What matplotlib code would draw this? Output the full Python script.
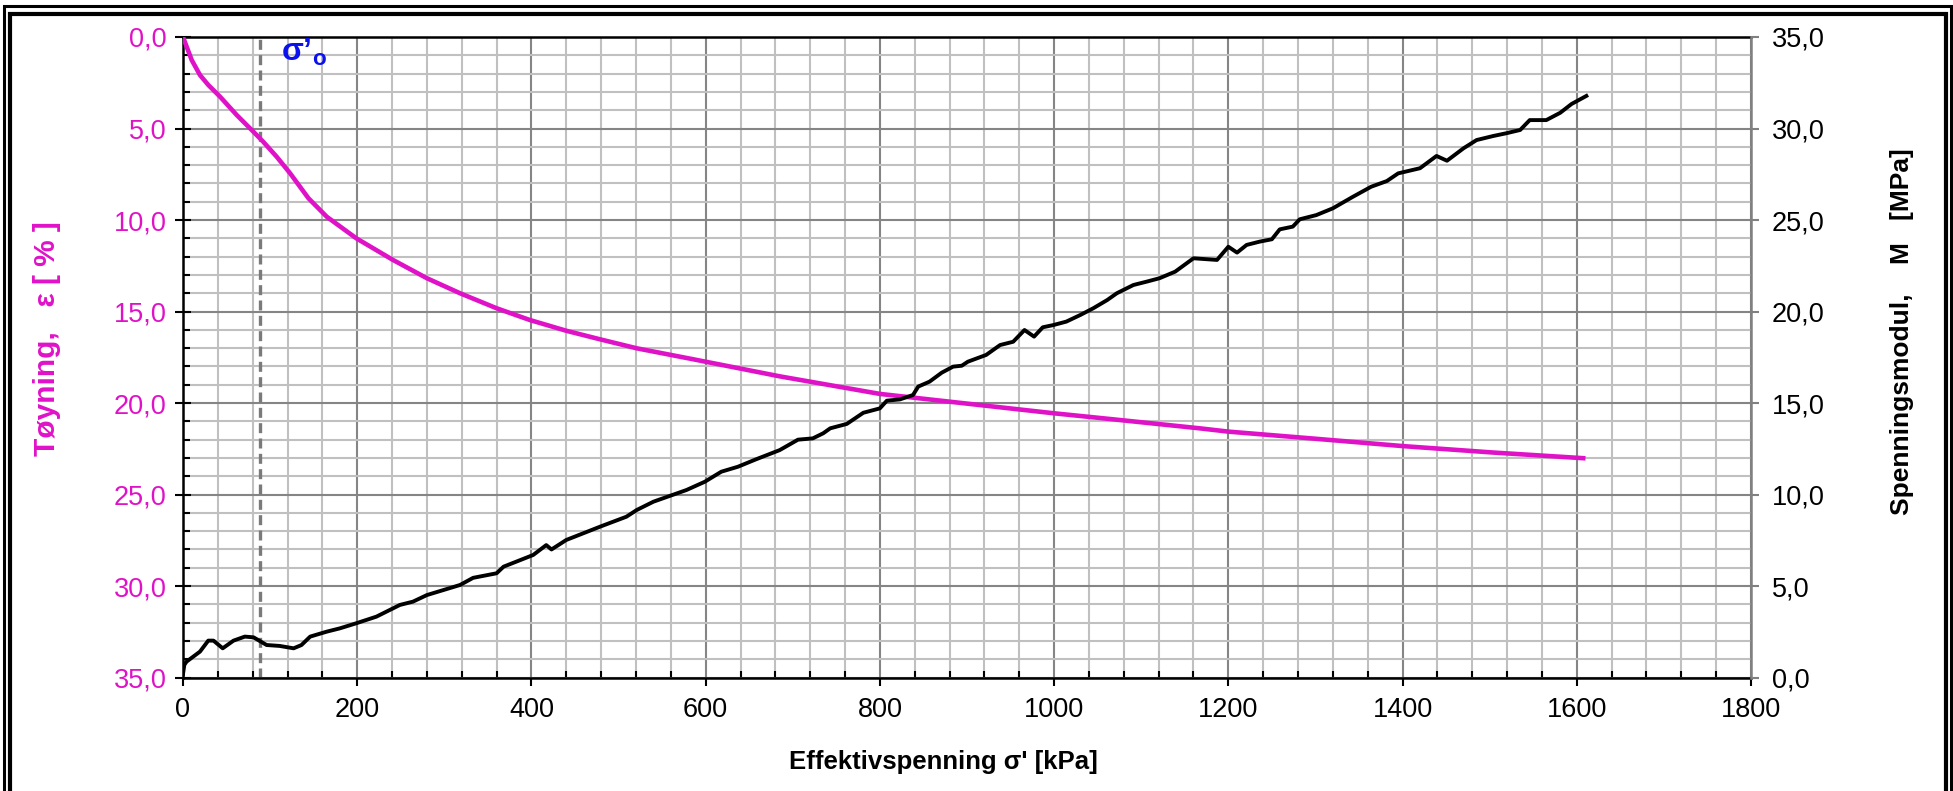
import matplotlib
matplotlib.use("Agg")
import matplotlib.pyplot as plt
from matplotlib.lines import Line2D
from matplotlib.ticker import MultipleLocator, FuncFormatter

plt.rcParams['font.family'] = ['Liberation Sans', 'DejaVu Sans']
plt.rcParams['mathtext.fontset'] = 'custom'
plt.rcParams['mathtext.bf'] = 'Liberation Sans:bold'
plt.rcParams['mathtext.rm'] = 'Liberation Sans'

# ---------------- data ----------------
strain_sigma = [0, 10, 19.5, 29, 42.5, 61.6, 80.7, 92, 107.5, 123, 144, 165, 199, 241,
                280, 318, 360, 398, 440, 479, 521, 586, 685, 800, 915, 1000, 1068,
                1167, 1200, 1300, 1400, 1503, 1610]
strain_eps = [0, 1.26, 2.08, 2.62, 3.26, 4.26, 5.17, 5.72, 6.54, 7.45, 8.81, 9.82, 11.0,
              12.18, 13.18, 14.0, 14.82, 15.46, 16.05, 16.52, 17.01, 17.61, 18.54, 19.5,
              20.11, 20.56, 20.89, 21.38, 21.56, 21.95, 22.35, 22.7, 23.02]

mod_sigma = [0, 1.5, 4, 19.5, 29, 35, 45.6, 58, 71, 81, 96, 111, 127, 136, 146, 165, 180,
             199, 222, 249, 264, 280, 318, 333, 360, 368, 402, 417, 423, 440, 479, 509,
             521, 540, 578, 599, 618, 637, 658, 685, 706, 723, 735, 743, 762, 781, 800,
             808, 823, 838, 844, 857, 871, 884, 894, 901, 922, 938, 953, 966, 977, 987,
             999, 1014, 1030, 1045, 1061, 1072, 1091, 1106, 1121, 1139, 1160, 1187, 1200,
             1210, 1221, 1236, 1250, 1259, 1274, 1282, 1301, 1320, 1343, 1364, 1382, 1395,
             1420, 1439, 1451, 1470, 1485, 1504, 1519, 1535, 1546, 1565, 1581, 1594, 1611]
mod_M = [0.2, 0.69, 0.87, 1.42, 2.02, 2.02, 1.6, 2.02, 2.24, 2.2, 1.78, 1.73, 1.6, 1.78,
         2.24, 2.51, 2.69, 2.97, 3.33, 3.97, 4.15, 4.51, 5.06, 5.45, 5.70, 6.06, 6.70,
         7.24, 7.0, 7.52, 8.25, 8.79, 9.16, 9.61, 10.25, 10.70, 11.25, 11.52, 11.93,
         12.43, 13.0, 13.07, 13.35, 13.62, 13.86, 14.47, 14.71, 15.13, 15.20, 15.44,
         15.9, 16.17, 16.66, 16.99, 17.04, 17.26, 17.63, 18.17, 18.35, 18.99, 18.63,
         19.14, 19.26, 19.45, 19.81, 20.18, 20.63, 21.0, 21.45, 21.63, 21.82, 22.18,
         22.91, 22.82, 23.54, 23.22, 23.64, 23.82, 23.95, 24.49, 24.64, 25.04, 25.27,
         25.64, 26.27, 26.82, 27.13, 27.55, 27.83, 28.50, 28.24, 28.92, 29.37, 29.59,
         29.74, 29.92, 30.46, 30.46, 30.86, 31.34, 31.78]

sigma0 = 88  # kPa, in-situ effective stress

x_ticks = [0, 200, 400, 600, 800, 1000, 1200, 1400, 1600, 1800]
eps_ticks = [0, 5, 10, 15, 20, 25, 30, 35]
M_ticks = [0, 5, 10, 15, 20, 25, 30, 35]

MAGENTA = '#E012C8'
W, H = 1953, 791

fig = plt.figure(figsize=(W / 100, H / 100), dpi=100)
fig.patch.set_facecolor('white')

ax_l, ax_r, ax_t, ax_b = 183, 1751, 37, 677.6
ax = fig.add_axes([ax_l / W, 1 - ax_b / H, (ax_r - ax_l) / W, (ax_b - ax_t) / H])
ax2 = ax.twinx()

# grid on primary axis
ax.set_xlim(0, 1800)
ax.set_ylim(35, 0)
ax.xaxis.set_major_locator(MultipleLocator(200))
ax.xaxis.set_minor_locator(MultipleLocator(40))
ax.yaxis.set_major_locator(MultipleLocator(5))
ax.yaxis.set_minor_locator(MultipleLocator(1))
ax.set_xticks(x_ticks)
ax.set_yticks(eps_ticks)
ax.grid(which='minor', color='#C0C0C0', lw=1.5)
ax.grid(which='major', color='#858585', lw=1.5)
ax.set_axisbelow(True)

comma = FuncFormatter(lambda v, p: f"{v:.1f}".replace('.', ','))
ax.yaxis.set_major_formatter(comma)

ax.tick_params(axis='y', which='major', direction='inout', length=12, width=1.5,
               color='black', labelcolor=MAGENTA, labelsize=19.5, pad=6)
ax.tick_params(axis='y', which='minor', direction='in', length=5, width=1.5, color='black')
ax.tick_params(axis='x', which='major', direction='out', length=6, width=1.5,
               color='black', labelsize=19.5, pad=8)
ax.tick_params(axis='x', which='minor', direction='in', length=5, width=1.5, color='black')

for s in ['left', 'bottom', 'top']:
    ax.spines[s].set_color('black')
    ax.spines[s].set_linewidth(1.8)
ax.spines['right'].set_visible(False)

# strain curve
ax.plot(strain_sigma, strain_eps, color=MAGENTA, lw=3.3, solid_capstyle='butt', zorder=3)
# sigma'0 line
ax.axvline(sigma0, color='#7A7A7A', lw=2.4, ls=(0, (3, 1.6)), zorder=2.5)
ax.text(sigma0 + 24, 0.0, r"σ’$_{\mathbf{o}}$", color='#0A10EE', fontsize=23,
        fontweight='bold', va='top', ha='left')

# modulus on secondary axis
ax2.set_ylim(0, 35)
ax2.set_yticks(M_ticks)
ax2.yaxis.set_major_formatter(comma)
ax2.yaxis.set_minor_locator(plt.NullLocator())
ax2.tick_params(axis='y', which='major', direction='out', length=6, width=1.5,
                color='#808080', labelcolor='black', labelsize=19.5, pad=9)
for s in ['left', 'bottom', 'top']:
    ax2.spines[s].set_visible(False)
ax2.spines['right'].set_color('#808080')
ax2.spines['right'].set_linewidth(1.8)
ax2.plot(mod_sigma, mod_M, color='black', lw=2.8, zorder=4)

# axis titles
fig.text(943 / W, 1 - 762 / H, "Effektivspenning σ' [kPa]", ha='center', va='center',
         fontsize=18.5, fontweight='bold')
fig.text(47 / W, 1 - 339 / H, "Tøyning,   ε [ % ]", ha='center', va='center',
         rotation=90, fontsize=21.5, fontweight='bold', color=MAGENTA)
fig.text(1902 / W, 1 - 332 / H, "Spenningsmodul,    M   [MPa]", ha='center', va='center',
         rotation=90, fontsize=19, fontweight='bold', color='black')

# double frame around the chart (bottom cropped)
def frame(x0, y0, x1, y1, lw):
    xs = [x0 / W, x0 / W, x1 / W, x1 / W]
    ys = [1 - y1 / H, 1 - y0 / H, 1 - y0 / H, 1 - y1 / H]
    fig.add_artist(Line2D(xs, ys, transform=fig.transFigure, color='black', lw=lw,
                          solid_joinstyle='miter'))

frame(4, 6, 1951, 800, 2.2)
frame(9.5, 14, 1946, 800, 3.0)

fig.savefig('out.png', dpi=100, facecolor='white')
